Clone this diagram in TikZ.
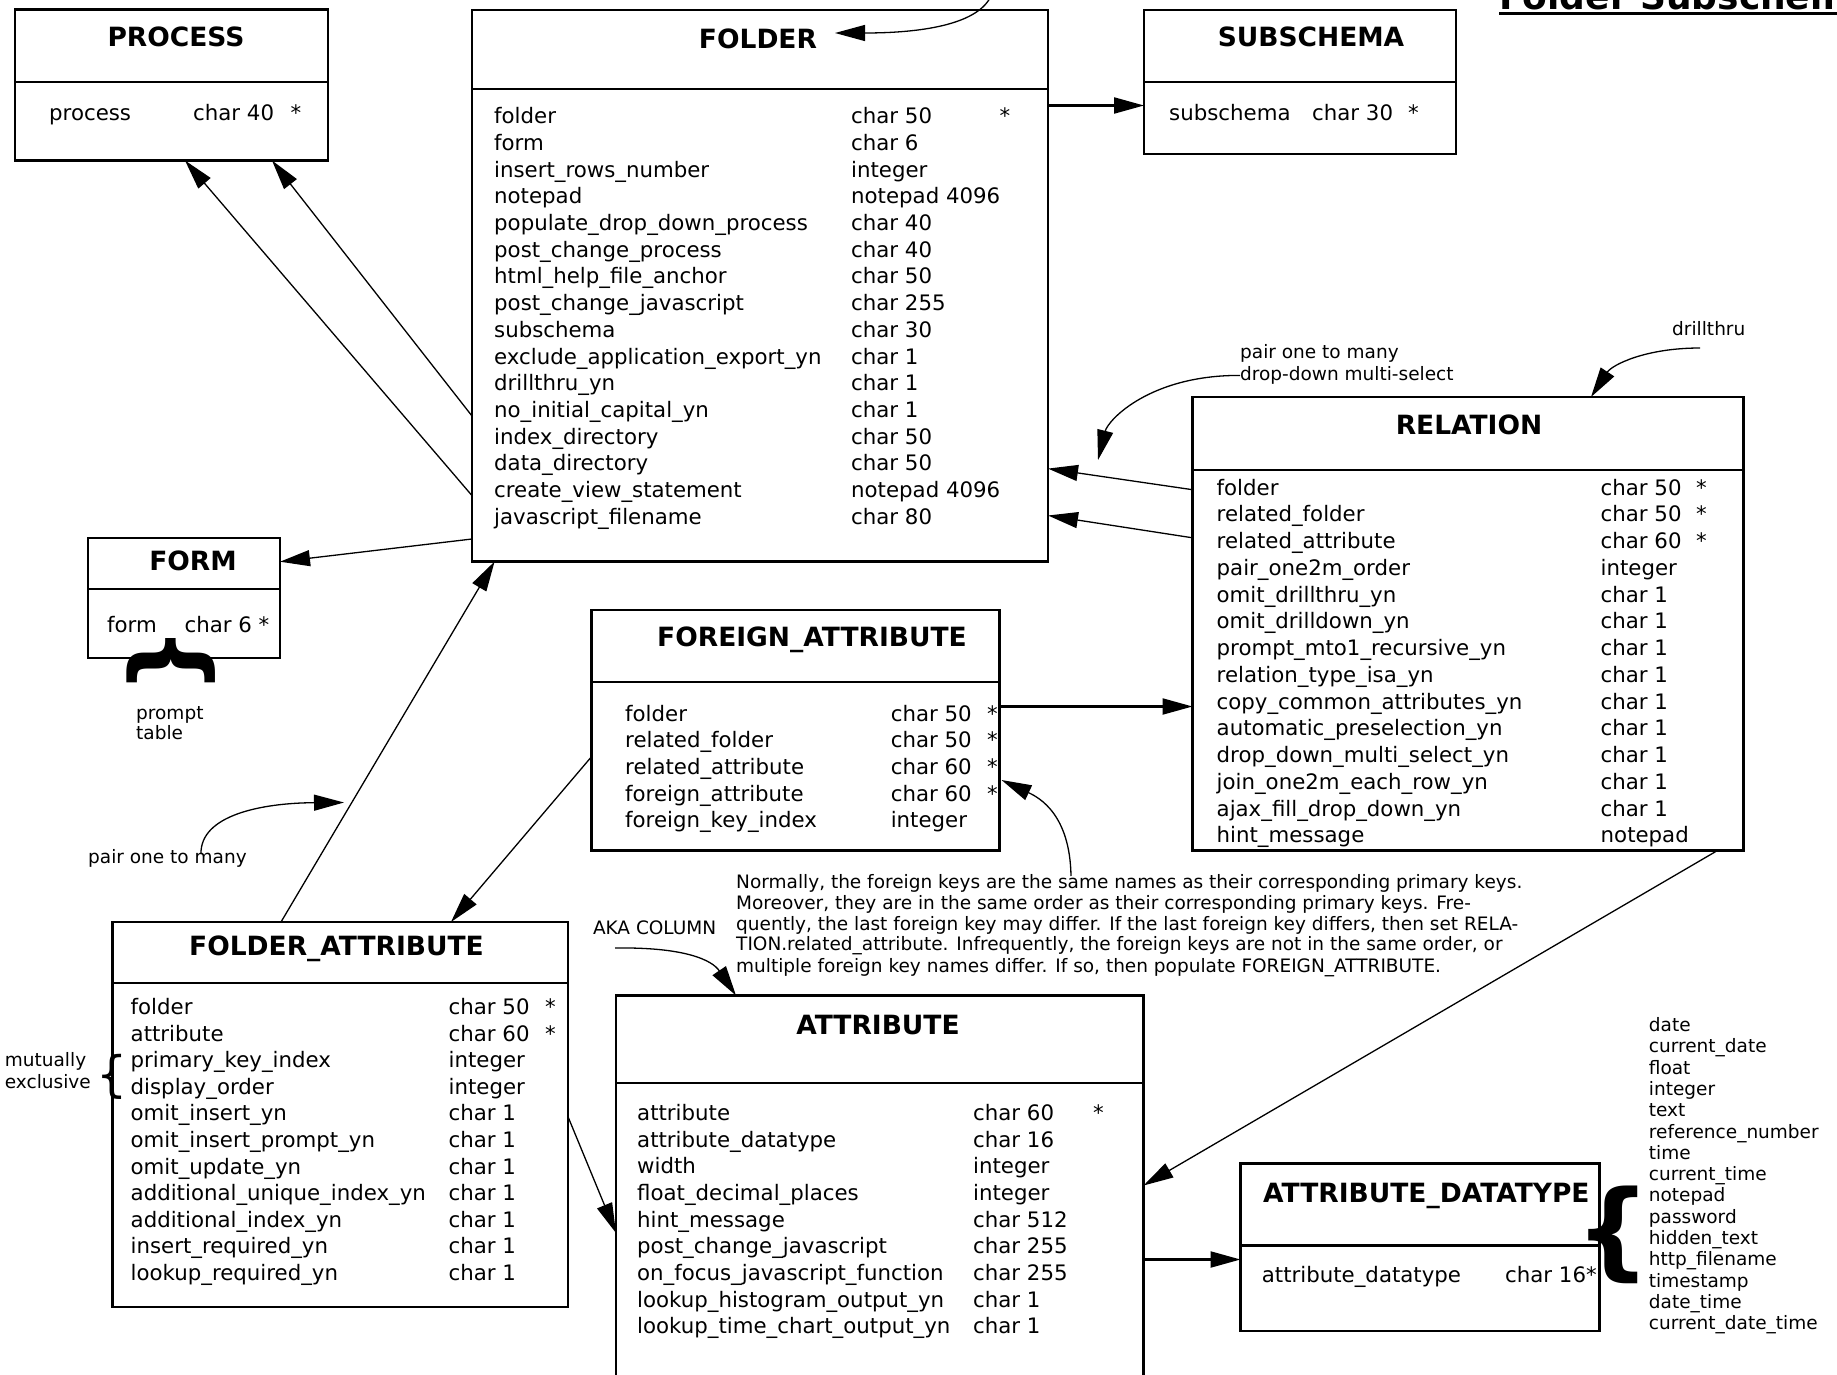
\documentclass[tikz,border=0pt]{standalone}
\usepackage{fontspec}
\setmainfont{DejaVu Sans}
\usetikzlibrary{arrows.meta,calc}
\tikzset{
  box/.style={draw, line width=2.2pt, rectangle, inner sep=0pt, outer sep=0pt, anchor=north west},
  divline/.style={line width=2.2pt},
  ttl/.style={font=\fontsize{26.5}{30}\selectfont\bfseries, inner sep=0pt, anchor=mid},
  fld/.style={font=\fontsize{21.3}{26}\selectfont, inner sep=0pt, anchor=mid west},
  sml/.style={font=\fontsize{18.5}{21}\selectfont, inner sep=0pt, anchor=mid west},
  conn/.style={line width=1.3pt, -{Triangle[length=30pt,width=16pt]}},
  tconn/.style={line width=2.2pt, -{Triangle[length=30pt,width=16pt]}},
  brc/.style={inner sep=0pt, outer sep=0pt, anchor=center},
}
\newcommand\erbox[6]{%
  \node[box, minimum width=#4pt, minimum height=#5pt] (#1) at (#2,#3) {};
  \draw[divline] ($(#1.north west)+(0,#6)$) -- ($(#1.north east)+(0,#6)$);
}
\newcommand\fieldrows[6]{%
  \foreach \a/\b [count=\i from 0] in {#6} {
    \node[fld] (#1n\i) at (#2, #4+\i*#5) {\a};
    \node[fld] (#1t\i) at (#3, #4+\i*#5) {\b};
  }
}
\begin{document}
\begin{tikzpicture}[x=1pt,y=-1pt]
\useasboundingbox (0,0) rectangle (1837,1375);
\clip (0,0) rectangle (1837,1375);

% ---------- boxes
\erbox{process}{15}{9.5}{313}{151}{72.5}
\erbox{folder}{472}{10}{576}{551.5}{79.3}
\erbox{subschema}{1144}{10}{312}{144}{72}
\erbox{form}{88}{538}{192}{120}{51}
\erbox{fattr}{591.5}{610}{408}{240.5}{71.7}
\erbox{relation}{1192.5}{397}{551}{453.5}{72.8}
\erbox{fldattr}{112.5}{922}{455.5}{385}{61.3}
\erbox{attribute}{616}{995.5}{527.5}{420}{87.2}
\erbox{adt}{1240.5}{1163.5}{359}{167.5}{82}

% ---------- titles
\node[ttl] (processT) at (176, 44) {PROCESS};
\node[ttl] (folderT) at (758, 45.5) {FOLDER};
\node[ttl] (subschemaT) at (1311, 44) {SUBSCHEMA};
\node[ttl] (formT) at (193, 567.5) {FORM};
\node[ttl] (fattrT) at (812, 643.5) {FOREIGN\_ATTRIBUTE};
\node[ttl] (relationT) at (1469, 431.5) {RELATION};
\node[ttl] (fldattrT) at (336.5, 953.2) {FOLDER\_ATTRIBUTE};
\node[ttl] (attributeT) at (878, 1031.5) {ATTRIBUTE};
\node[ttl, anchor=mid west] (adtT) at (1263, 1199.5) {ATTRIBUTE\_DATATYPE};

\node[font=\fontsize{36}{40}\selectfont\bfseries, inner sep=0pt, anchor=base west] (maintitle) at (1499.4, 10) {Folder Subschema};
\draw[line width=3.3pt] ($(maintitle.base west)+(0,3.4)$) -- ($(maintitle.base east)+(0,3.4)$);

% ---------- rows
\node[fld] (processN) at (49,117.5) {process};
\node[fld] (processTy) at (193,117.5) {char 40};
\node[fld] (processS) at (290.5,117.5) {*};

\fieldrows{fo}{494}{851}{121}{26.7}{folder/char 50, form/char 6, insert\_rows\_number/integer, notepad/notepad 4096, populate\_drop\_down\_process/char 40, post\_change\_process/char 40, html\_help\_file\_anchor/char 50, post\_change\_javascript/char 255, subschema/char 30, exclude\_application\_export\_yn/char 1, drillthru\_yn/char 1, no\_initial\_capital\_yn/char 1, index\_directory/char 50, data\_directory/char 50, create\_view\_statement/notepad 4096, javascript\_filename/char 80}
\node[fld] (foS) at (999.5,121) {*};

\node[fld] (subN) at (1169,117.5) {subschema};
\node[fld] (subTy) at (1312,117.5) {char 30};
\node[fld] (subS) at (1408,117.5) {*};

\node[fld] (formN) at (107,630) {form};
\node[fld] (formTy) at (184.4,630) {char 6 *};

\fieldrows{fa}{625}{890.6}{718.3}{26.7}{folder/char 50, related\_folder/char 50, related\_attribute/char 60, foreign\_attribute/char 60, foreign\_key\_index/integer}
\foreach \i in {0,...,3} \node[fld] (faS\i) at (987, 718.3+\i*26.7) {*};

\fieldrows{re}{1216.5}{1600.5}{492.5}{26.75}{folder/char 50, related\_folder/char 50, related\_attribute/char 60, pair\_one2m\_order/integer, omit\_drillthru\_yn/char 1, omit\_drilldown\_yn/char 1, prompt\_mto1\_recursive\_yn/char 1, relation\_type\_isa\_yn/char 1, copy\_common\_attributes\_yn/char 1, automatic\_preselection\_yn/char 1, drop\_down\_multi\_select\_yn/char 1, join\_one2m\_each\_row\_yn/char 1, ajax\_fill\_drop\_down\_yn/char 1, hint\_message/notepad}
\foreach \i in {0,...,2} \node[fld] (reS\i) at (1696, 492.5+\i*26.75) {*};

\fieldrows{fd}{130.5}{448.5}{1011.7}{26.6}{folder/char 50, attribute/char 60, primary\_key\_index/integer, display\_order/integer, omit\_insert\_yn/char 1, omit\_insert\_prompt\_yn/char 1, omit\_update\_yn/char 1, additional\_unique\_index\_yn/char 1, additional\_index\_yn/char 1, insert\_required\_yn/char 1, lookup\_required\_yn/char 1}
\foreach \i in {0,1} \node[fld] (fdS\i) at (545, 1011.7+\i*26.6) {*};

\fieldrows{at}{637}{973}{1117.7}{26.66}{attribute/char 60, attribute\_datatype/char 16, width/integer, float\_decimal\_places/integer, hint\_message/char 512, post\_change\_javascript/char 255, on\_focus\_javascript\_function/char 255, lookup\_histogram\_output\_yn/char 1, lookup\_time\_chart\_output\_yn/char 1}
\node[fld] (atS) at (1093,1117.7) {*};

\node[fld] (adtN) at (1261.7,1280) {attribute\_datatype};
\node[fld] (adtTy) at (1505,1280) {char 16*};

% ---------- annotations
\node[sml] (prompt1) at (136, 717.1) {prompt};
\node[sml] (prompt2) at (136, 737.1) {table};
\node[sml] (pairL) at (88, 860.8) {pair one to many};
\node[sml] (pairR1) at (1240, 355.8) {pair one to many};
\node[sml] (pairR2) at (1240, 377.8) {drop-down multi-select};
\node[sml] (drill) at (1672, 332.3) {drillthru};
\node[sml] (mut1) at (4.7, 1063.8) {mutually};
\node[sml] (mut2) at (4.7, 1085.3) {exclusive};
\node[sml] (aka) at (592.8, 931.8) {AKA COLUMN};
\node[sml] (note1) at (736, 885.5) {Normally, the foreign keys are the same names as their corresponding primary keys.};
\node[sml] (note2) at (736, 906.5) {Moreover, they are in the same order as their corresponding primary keys. Fre-};
\node[sml] (note3) at (736, 927.3) {quently, the last foreign key may differ. If the last foreign key differs, then set RELA-};
\node[sml] (note4) at (736, 948.1) {TION.related\_attribute. Infrequently, the foreign keys are not in the same order, or};
\node[sml] (note5) at (736, 969.3) {multiple foreign key names differ. If so, then populate FOREIGN\_ATTRIBUTE.};
\foreach \w [count=\i from 0] in {date, current\_date, float, integer, text, reference\_number, time, current\_time, notepad, password, hidden\_text, http\_filename, timestamp, date\_time, current\_date\_time}
  \node[sml] (dt\i) at (1648.7, 1028.8+\i*21.3) {\w};

% braces
\node[brc, font=\fontsize{96}{96}\selectfont\bfseries, rotate=-90] (formBrace) at (171, 661) {\{};
\node[brc, font=\fontsize{49}{49}\selectfont] (mutBrace) at (112.5, 1077) {\{};
\node[brc, font=\fontsize{106}{106}\selectfont\bfseries] (adtBrace) at (1613, 1235) {\{};

% ---------- connectors
\draw[conn] ($(folder.north west)+(0,406)$) -- ($(process.south west)+(257,0)$);
\draw[conn] ($(folder.north west)+(0,485.6)$) -- ($(process.south west)+(170,0)$);
\draw[conn] ($(folder.north west)+(0,529)$) -- ($(form.north east)+(0,23.7)$);
\draw[tconn] ($(folder.north east)+(0,95.5)$) -- ($(subschema.north west)+(0,95.5)$);
\draw[conn] ($(relation.north west)+(0,92.7)$) -- ($(folder.north east)+(0,458.6)$);
\draw[conn] ($(relation.north west)+(0,140.8)$) -- ($(folder.north east)+(0,505.5)$);
\draw[conn] ($(fldattr.north west)+(168.5,0)$) -- ($(folder.south west)+(22.6,0)$);
\draw[conn] ($(fattr.north west)+(0,146.7)$) -- ($(fldattr.north west)+(338.5,0)$);
\draw[tconn] ($(fattr.north east)+(0,96.5)$) -- ($(relation.north west)+(0,309.5)$);
\draw[conn] ($(fldattr.north east)+(0,194.7)$) -- ($(attribute.north west)+(0,237.5)$);
\draw[conn] ($(relation.south west)+(525,0)$) -- ($(attribute.north east)+(0,190)$);
\draw[tconn] ($(attribute.north east)+(0,264)$) -- ($(adt.north west)+(0,96)$);

% curved annotation arrows
\coordinate (topsrc) at (990,-2);
\coordinate (toptip) at (835,33);
\draw[conn] (topsrc) .. controls (975,25) and (920,33) .. (toptip);
\coordinate (drillsrc) at (1700,348);
\draw[conn] (drillsrc) .. controls (1645,348) and (1612,365) .. ($(relation.north west)+(398.5,0)$);
\coordinate (pairtip) at (1098,460);
\draw[conn] (pairR2.west) .. controls (1150,375) and (1108,420) .. (pairtip);
\coordinate (pairLsrc) at (201,854);
\coordinate (pairLtip) at (344,802.5);
\draw[conn] (pairLsrc) .. controls (200,815) and (262,803) .. (pairLtip);
\coordinate (notesrc) at (1071,876);
\draw[conn] (notesrc) .. controls (1070,815) and (1040,798) .. ($(fattr.north east)+(2,170)$);
\coordinate (akasrc) at (615,948);
\draw[conn] (akasrc) .. controls (685,947) and (712,960) .. ($(attribute.north west)+(120,0)$);
\end{tikzpicture}
\end{document}
